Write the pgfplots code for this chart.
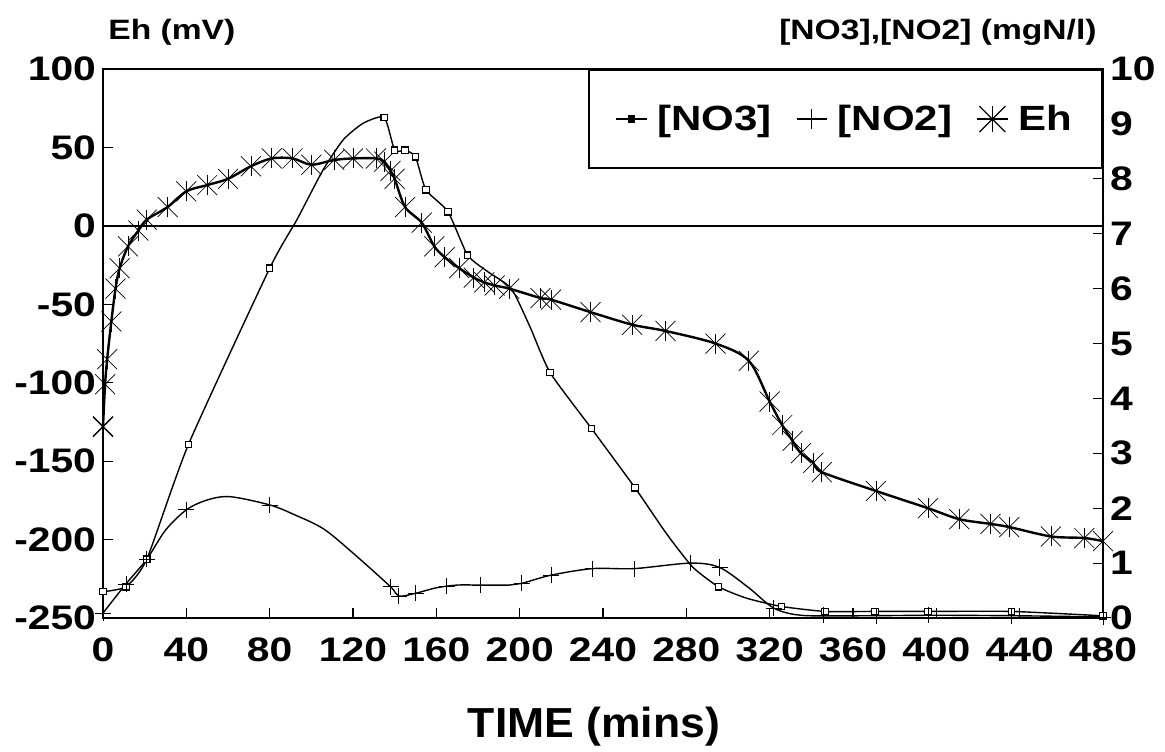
\documentclass[border=0pt]{standalone}
\usepackage{fontspec}
\setmainfont{Liberation Sans}[FakeStretch=1.2]
\newfontfamily\titlefont{Liberation Sans}[FakeStretch=1.06]
\usepackage{pgfplots}
\pgfplotsset{compat=1.18}
\pgfdeclareplotmark{ehstar}{%
  \pgfpathmoveto{\pgfqpoint{-\pgfplotmarksize}{-\pgfplotmarksize}}%
  \pgfpathlineto{\pgfqpoint{\pgfplotmarksize}{\pgfplotmarksize}}%
  \pgfpathmoveto{\pgfqpoint{-\pgfplotmarksize}{\pgfplotmarksize}}%
  \pgfpathlineto{\pgfqpoint{\pgfplotmarksize}{-\pgfplotmarksize}}%
  \pgfusepathqstroke
  \pgfsetlinewidth{0.35pt}%
  \pgfpathmoveto{\pgfqpoint{0pt}{-\pgfplotmarksize}}%
  \pgfpathlineto{\pgfqpoint{0pt}{\pgfplotmarksize}}%
  \pgfusepathqstroke
}
\begin{document}
\begin{tikzpicture}
\pgfplotsset{
  common/.style={
    at={(0,0)}, anchor=south west,
    scale only axis, width=500pt, height=274.5pt,
    xmin=0, xmax=480,
    tick align=inside,
    major tick length=5pt,
    axis line style={line width=0.9pt},
    every tick/.style={black, line width=0.6pt},
    tick label style={font=\fontsize{17}{20}\selectfont\bfseries},
    /pgf/number format/assume math mode=true,
    clip=false,
  }
}
\begin{axis}[common,
  ymin=-250, ymax=100,
  xtick={0,40,...,480}, ytick={-250,-200,...,100},
  xtick pos=bottom, ytick pos=left,
  xticklabel style={yshift=-6.5pt},
]
\addplot[black, line width=0.7pt, forget plot] coordinates {(0,0) (480,0)};
\addplot[black, line width=1.2pt, smooth, tension=0.5, mark=ehstar, mark size=5pt,
  mark options={line width=0.7pt}] coordinates {
 (0,-128) (1,-101) (2,-85) (4,-61) (6,-40) (8,-27) (12,-13) (17,-3) (21,4)
 (31,12) (40,22) (50,26) (60,30) (71,38) (81,43) (91,43) (100,39) (111,42)
 (120,43) (131,43) (135,41) (138,35) (140,30) (145,12) (153,2) (159,-13)
 (164,-20) (171,-27) (178,-33) (183,-36) (188,-38) (195,-40) (210,-46)
 (215,-47) (234,-55) (254,-63) (270,-67) (294,-75) (310,-86) (320,-112)
 (326,-127) (331,-137) (335,-145) (341,-151) (345,-157) (371,-169)
 (396,-180) (411,-187) (426,-190) (435,-192) (455,-198) (471,-199) (480,-201)
};
\end{axis}
\begin{axis}[common,
  ymin=0, ymax=10, ytick={0,1,...,10},
  axis y line*=right, axis x line=none,
  tick align=inside,
  legend image code/.code={\draw[mark repeat=2,mark phase=2] plot coordinates {(0cm,0cm) (0.27cm,0cm) (0.54cm,0cm)};},
  legend style={at={(1,1)}, anchor=north east, legend columns=3,
    draw=black, line width=0.9pt, fill=white,
    font=\fontsize{17.5}{21}\selectfont\bfseries,
    inner xsep=13pt, inner ysep=15.5pt,
    /tikz/every odd column/.append style={column sep=3pt},
    /tikz/every even column/.append style={column sep=10pt}},
]
% NO3 line
\addplot[black, line width=0.7pt, smooth, tension=0.35, forget plot] coordinates {
 (0,0.48) (11,0.57) (21,1.07) (41,3.16) (80,6.37) (93,7.25) (105.6,8.16)
 (115.3,8.71) (124.8,9.01) (135,9.12) (140,8.52) (145,8.52) (150,8.40)
 (155,7.80) (165.6,7.40) (175,6.61) (185,6.3) (196,6.0) (205,5.3)
 (214.6,4.47) (234.5,3.45) (255.4,2.37) (270.4,1.54) (283,0.93)
 (295.4,0.57) (309,0.36) (325.7,0.21) (346.6,0.12) (370.6,0.12) (396,0.12)
 (436,0.12) (480,0.04)
};
% NO3 markers
\addplot[black, only marks, mark=square*, mark size=1.6pt,
  mark options={fill=white, line width=0.6pt}, forget plot] coordinates {
 (0,0.48) (11,0.57) (21,1.07) (41,3.16) (80,6.37) (135,9.12) (140,8.52)
 (145,8.52) (150,8.40) (155,7.80) (165.6,7.40) (175,6.61) (214.6,4.47)
 (234.5,3.45) (255.4,2.37) (295.4,0.57) (325.7,0.21) (346.6,0.12)
 (370.6,0.12) (396,0.12) (436,0.12) (480,0.04)
};
% NO2 line
\addplot[black, line width=0.7pt, smooth, tension=0.5, forget plot] coordinates {
 (0,0.09) (11,0.62) (21,1.07) (30,1.6) (40,1.97) (50,2.15) (61,2.21)
 (80,2.06) (92,1.88) (106,1.62) (121,1.15) (138,0.57) (142,0.40) (150,0.45)
 (160,0.55) (170,0.6) (181,0.6) (195,0.6) (201,0.63) (215,0.78) (235,0.9)
 (255,0.9) (282,1.0) (296,0.92) (310,0.55) (322,0.18) (335,0.05)
 (360,0.04) (400,0.05) (440,0.04) (480,0.02)
};
% NO2 markers
\addplot[black, only marks, mark=+, mark size=4pt,
  mark options={line width=0.4pt}, forget plot] coordinates {
 (0,0.09) (11,0.62) (21,1.07) (40,1.97) (80,2.06) (138,0.57) (142,0.40)
 (150,0.45) (165,0.58) (181,0.6) (201,0.63) (215,0.78) (235,0.9) (255,0.9)
 (282,1.0) (296,0.92) (322,0.18) (346,0.05) (371,0.04) (396,0.05)
 (436,0.04) (480,0.02)
};
\addlegendimage{black, line width=0.7pt, mark=square*, mark size=1.6pt}
\addlegendentry{[NO3]}
\addlegendimage{black, line width=0.7pt, mark=+, mark size=5pt, mark options={line width=0.5pt}}
\addlegendentry{[NO2]}
\addlegendimage{black, line width=0.7pt, mark=ehstar, mark size=6.5pt, mark options={line width=0.6pt}}
\addlegendentry{Eh}
\end{axis}
\node[anchor=base west, inner sep=0, font=\fontsize{14}{16}\selectfont\bfseries] at (2.5pt,289pt) {Eh (mV)};
\node[anchor=base east, inner sep=0, font=\fontsize{14}{16}\selectfont\bfseries] at (497pt,289pt) {[NO3],[NO2] (mgN/l)};
\node[anchor=base, inner sep=0, font=\titlefont\fontsize{21}{24}\selectfont\bfseries] at (245.5pt,-59.5pt) {TIME (mins)};
\pgfresetboundingbox
\useasboundingbox (-51.5pt,-66.5pt) rectangle (531pt,309pt);
\end{tikzpicture}
\end{document}
